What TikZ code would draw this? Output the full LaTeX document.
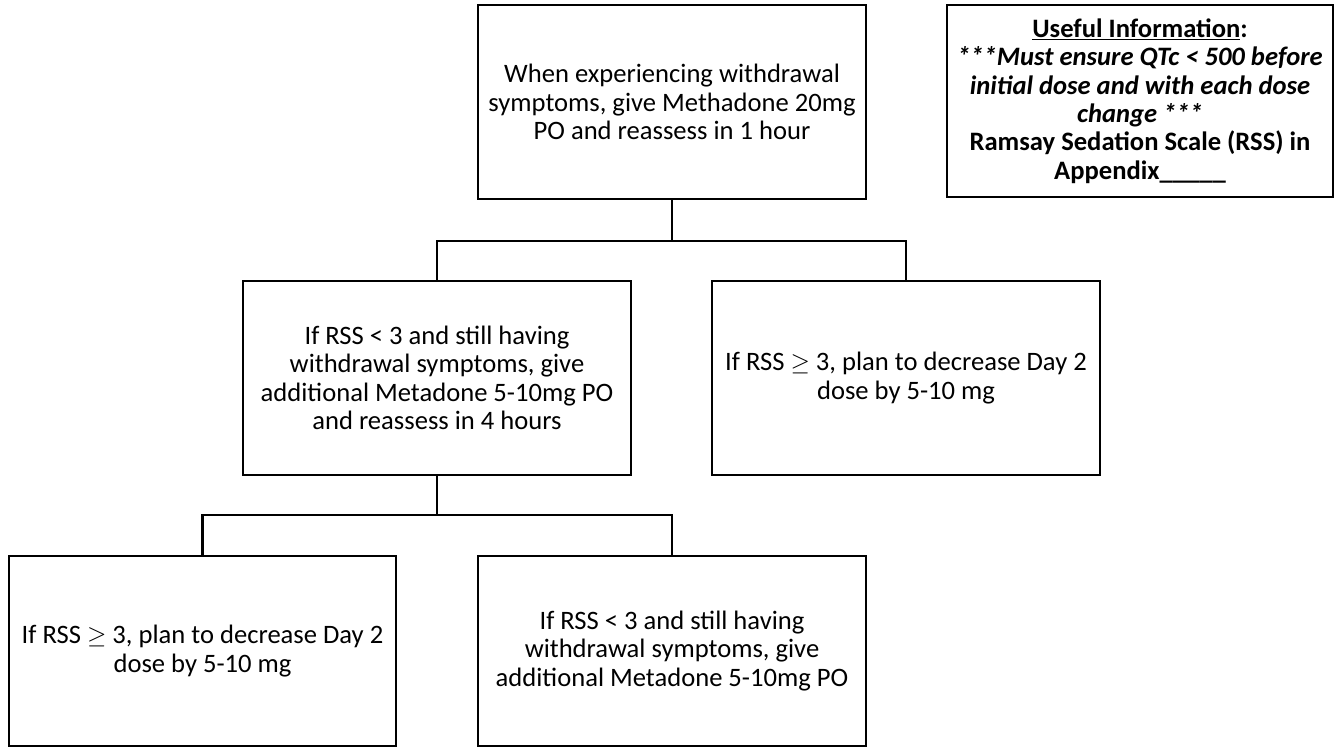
\documentclass[tikz,border=0pt]{standalone}
\usepackage{fontspec}
\setmainfont{Carlito}
\tikzset{
  flowbox/.style={draw=black, line width=2.2pt, align=center, inner sep=0pt,
    minimum width=388pt, minimum height=194pt,
    font=\fontsize{26.6}{28.5}\selectfont},
  infobox/.style={flowbox, minimum width=386pt, minimum height=192pt,
    font=\fontsize{26.6}{28.3}\selectfont\bfseries},
  lowbox/.style={flowbox, minimum height=190pt},
  link/.style={draw=black, line width=2.2pt}
}
\begin{document}
\begin{tikzpicture}[x=1pt,y=-1pt]
\useasboundingbox (0,0) rectangle (1341,749);
\node[flowbox] (top) at (672,102) {When experiencing withdrawal\\symptoms, give Methadone 20mg\\PO and reassess in 1 hour};
\node[infobox] (info) at (1140,101) {\underline{Useful Information}:\\\textit{***Must ensure QTc < 500 before}\\\textit{initial dose and with each dose}\\\textit{change ***}\\Ramsay Sedation Scale (RSS) in\\Appendix\_\_\_\_\_};
\node[flowbox] (ml) at (437,378) {If RSS < 3 and still having\\withdrawal symptoms, give\\additional Metadone 5-10mg PO\\and reassess in 4 hours};
\node[flowbox] (mr) at (906,378) {If RSS $\geq$ 3, plan to decrease Day 2\\dose by 5-10 mg};
\node[lowbox, minimum width=387pt] (bl) at (202.5,651) {If RSS $\geq$ 3, plan to decrease Day 2\\dose by 5-10 mg};
\node[lowbox] (br) at (672,651) {If RSS < 3 and still having\\withdrawal symptoms, give\\additional Metadone 5-10mg PO};
\coordinate (j1) at (672,241);
\coordinate (j2) at (437,515);
\draw[link] (top.south) -- (j1);
\draw[link] (ml.north) |- (j1) -| (mr.north);
\draw[link] (ml.south) -- (j2);
\draw[link] (bl.north) |- (j2) -| (br.north);
\end{tikzpicture}
\end{document}
